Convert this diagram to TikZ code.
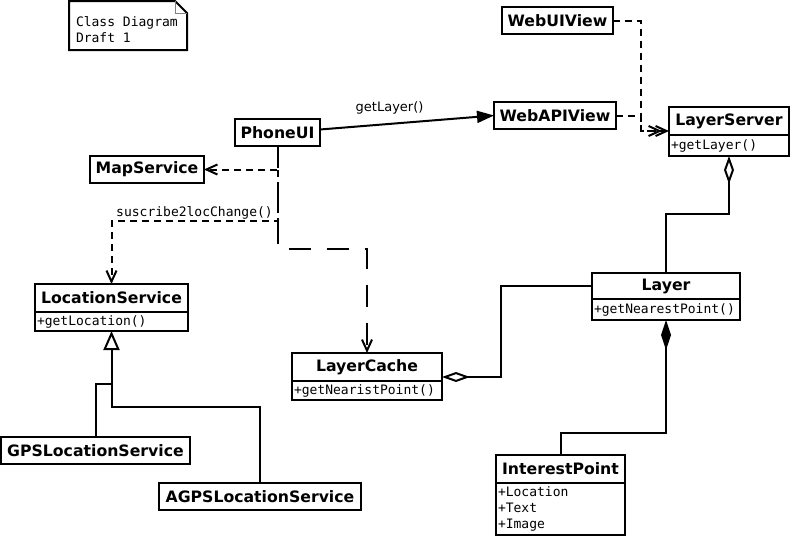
\documentclass[tikz,border=0pt]{standalone}
\usepackage{fontspec}
\setmainfont{DejaVu Sans}
\setmonofont{DejaVu Sans Mono}
\usepackage{tikz}
\usetikzlibrary{arrows.meta,calc}

\newcommand{\umlname}{\bfseries\fontsize{15.7}{18}\selectfont}
\newcommand{\umlmember}{\ttfamily\fontsize{13}{16}\selectfont}
\newcommand{\umllabel}{\fontsize{13}{15}\selectfont}

\begin{document}
\begin{tikzpicture}[inner sep=0pt,outer sep=0pt,x=1pt,y=-1pt,
    ctitle/.style={draw, line width=2pt, anchor=north west, font=\umlname, minimum height=27pt},
    cbody/.style={draw, line width=2pt, anchor=north, font=\umlmember, align=left, inner xsep=2pt},
    assoc/.style={line width=2pt, -{Triangle[length=17pt,width=12pt]}},
    depend/.style={line width=2pt, dash pattern=on 7pt off 5pt, -{Straight Barb[length=11pt,width=10pt]}},
    longdepend/.style={depend, dash pattern=on 22pt off 16pt},
    aggregate/.style={line width=2pt, -{Diamond[open,length=28pt,width=10pt]}},
    compose/.style={line width=2pt, -{Diamond[length=30pt,width=10pt]}},
    inherit/.style={line width=2pt, -{Triangle[open,length=19pt,width=16pt]}},
    plain/.style={line width=2pt}]
    \useasboundingbox (0,0) rectangle (790,536);

    % note
    \draw[line width=2pt] (69,1) -- (175,1) -- (187,13) -- (187,50) -- (69,50) -- cycle;
    \draw[line width=0.8pt, gray] (175,1) -- (175,13) -- (187,13);
    \node[anchor=west, align=left, font=\umlmember] (note) at (76,30)
    {Class Diagram\\Draft 1};

    % web side
    \node[ctitle, minimum width=111pt] (webui) at (502,7) {WebUIView};
    \node[ctitle, minimum width=122pt] (webapi) at (494,102) {WebAPIView};
    \node[ctitle, minimum width=120pt, minimum height=28pt] (lstitle) at (669,107) {LayerServer};
    \node[cbody, text width=116pt, minimum height=21pt] (lsbody) at (lstitle.south) {+getLayer()};

    % phone side
    \node[ctitle, minimum width=85pt] (phoneui) at (235,119) {PhoneUI};
    \node[ctitle, minimum width=114pt] (mapservice) at (90,156) {MapService};
    \node[ctitle, minimum width=153pt, minimum height=28pt] (loctitle) at (35,284) {LocationService};
    \node[cbody, text width=149pt, minimum height=19pt] (locbody) at (loctitle.south) {+getLocation()};
    \node[ctitle, minimum width=189pt] (gpsloc) at (1,437) {GPSLocationService};
    \node[ctitle, minimum width=202pt] (agpsloc) at (159,483) {AGPSLocationService};

    % layers
    \node[ctitle, minimum width=150pt, minimum height=28pt] (lctitle) at (292,353) {LayerCache};
    \node[cbody, text width=146pt, minimum height=19pt] (lcbody) at (lctitle.south) {+getNearistPoint()};
    \node[ctitle, minimum width=148pt, minimum height=26pt] (layertitle) at (592,273) {Layer};
    \node[cbody, text width=144pt, minimum height=21pt] (layerbody) at (layertitle.south) {+getNearestPoint()};
    \node[ctitle, minimum width=129pt, minimum height=28pt] (iptitle) at (496,455) {InterestPoint};
    \node[cbody, text width=125pt, minimum height=52pt] (ipbody) at (iptitle.south)
    {+Location\\+Text\\+Image};

    % connectors
    \draw[assoc] ([yshift=3pt]phoneui.east) -- node[pos=0.4, above=10pt, font=\umllabel] (getlabel) {getLayer()} (webapi.west);
    \draw[depend] (webui.east) -- ++(28,0) |- ([yshift=-10pt]lstitle.west);
    \draw[depend] (webapi.east) -- ++(25,0) |- ([xshift=-7pt,yshift=-10pt]lstitle.west);
    \draw[depend] (phoneui.south) |- (mapservice.east);
    \draw[depend] (phoneui.south) -- ++(0,75) -| node[pos=0.25, above=2pt, font=\umlmember] (sublabel) {suscribe2locChange()} (loctitle.north);
    \draw[longdepend] (phoneui.south) -- ++(0,103) -| (lctitle.north);

    \draw[aggregate] (layertitle.north) -- ++(0,-59) -| (lsbody.south);
    \draw[aggregate] (layertitle.west) -- ++(-91,0) |- ([yshift=4pt]lctitle.south east);
    \draw[compose] (iptitle.north) -- ++(0,-22) -| (layerbody.south);

    \draw[inherit] (agpsloc.north) -- ++(0,-76) -| (locbody.south);
    \draw[plain] (gpsloc.north) -- ++(0,-53) -- ++(16,0);

\end{tikzpicture}
\end{document}
